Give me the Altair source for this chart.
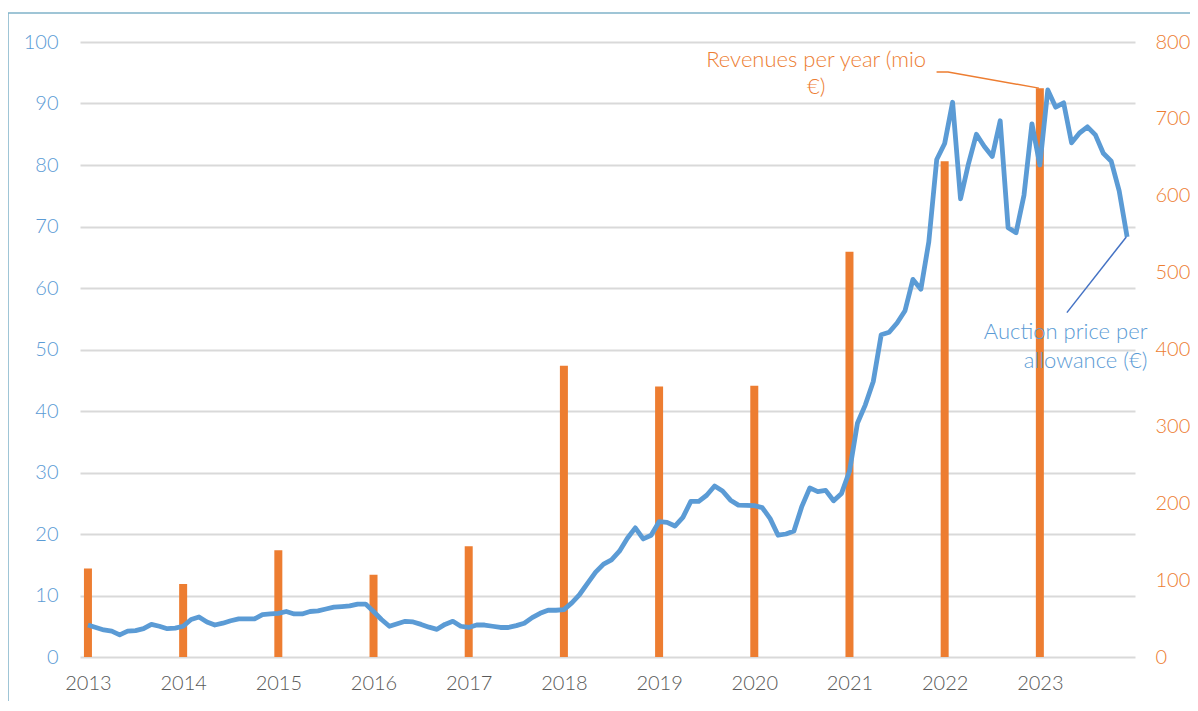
import altair as alt
import pandas as pd

# Monthly auction price per allowance (EUR), Jan 2013 .. Dec 2023
price = [
    5.2, 4.8, 4.4, 4.2, 3.6, 4.2, 4.3, 4.6, 5.3, 5.0, 4.6, 4.7,        # 2013
    5.0, 6.1, 6.5, 5.7, 5.2, 5.5, 5.9, 6.2, 6.2, 6.2, 6.9, 7.0,        # 2014
    7.1, 7.4, 7.0, 7.0, 7.4, 7.5, 7.8, 8.1, 8.2, 8.3, 8.6, 8.6,        # 2015
    7.4, 6.1, 5.0, 5.4, 5.8, 5.7, 5.3, 4.85, 4.5, 5.3, 5.8, 5.0,       # 2016
    4.8, 5.2, 5.2, 5.0, 4.8, 4.8, 5.1, 5.5, 6.4, 7.1, 7.6, 7.6,        # 2017
    7.7, 8.8, 10.2, 12.0, 13.8, 15.1, 15.8, 17.2, 19.3, 21.0, 19.2, 19.8,  # 2018
    22.0, 21.9, 21.3, 22.7, 25.3, 25.3, 26.3, 27.8, 27.0, 25.5, 24.7, 24.65,  # 2019
    24.6, 24.3, 22.5, 19.8, 20.0, 20.5, 24.5, 27.5, 26.9, 27.1, 25.4, 26.6,  # 2020
    30.2, 38.0, 41.0, 44.8, 52.4, 52.8, 54.3, 56.3, 61.4, 59.8, 67.5, 80.9,  # 2021
    83.5, 90.2, 74.5, 80.2, 85.0, 83.0, 81.4, 87.2, 69.8, 69.0, 75.1, 86.7,  # 2022
    80.0, 92.2, 89.4, 90.1, 83.6, 85.2, 86.2, 84.9, 81.9, 80.6, 75.8, 68.3,  # 2023
]

# Yearly auction revenues (mio EUR)
years = [2013, 2014, 2015, 2016, 2017, 2018, 2019, 2020, 2021, 2022, 2023]
revenues = [115, 95, 139, 107, 144, 379, 352, 353, 527, 645, 740]

year_ticks = years
left_ticks = list(range(0, 101, 10))
right_ticks = list(range(0, 801, 100))

rev_label = ["Revenues per year (mio", "€)"]
rev_label_x = [2020.65, 2020.65]
rev_label_y = [777, 741]
rev_leader_x = [2021.915, 2022.035, 2022.99]
rev_leader_y = [761, 761, 740]

price_label = ["Auction price per", "allowance (€)"]
price_label_x = [2024.13, 2024.13]
price_label_y = [52.8, 48.1]
price_leader_x = [2023.284, 2023.908]
price_leader_y = [56.0, 68.3]

BLUE = "#5B9BD5"
ORANGE = "#ED7D31"
GRAY = "#595959"
FONT = "Lato"

price_df = pd.DataFrame({"t": [2013 + i / 12 for i in range(len(price))], "price": price})
rev_df = pd.DataFrame({"year": years, "rev": revenues})

xscale = alt.Scale(domain=[2012.969, 2023.947], nice=False, zero=False)
xaxis = alt.Axis(values=year_ticks, format="d", grid=False, domain=False, ticks=False,
                 labelFontSize=20, labelColor=GRAY, labelFont=FONT, labelFontWeight=300,
                 labelPadding=16, title=None)

left_scale = alt.Scale(domain=[0, 100], nice=False)
right_scale = alt.Scale(domain=[0, 800], nice=False)

right_axis = alt.Axis(orient="right", values=right_ticks, grid=False,
                      domain=False, ticks=False, labelFontSize=20, labelColor=ORANGE,
                      labelFont=FONT, labelFontWeight=300, labelPadding=20, title=None)
left_axis = alt.Axis(orient="left", values=left_ticks, grid=True,
                     gridColor="#D9D9D9", gridWidth=2, domain=False, ticks=False,
                     labelFontSize=20, labelColor=BLUE, labelFont=FONT,
                     labelFontWeight=300, labelPadding=22, title=None)

bars = alt.Chart(rev_df).mark_bar(color=ORANGE, size=8).encode(
    x=alt.X("year:Q", scale=xscale, axis=xaxis),
    y=alt.Y("rev:Q", scale=right_scale, axis=right_axis),
)

rev_text = alt.Chart(pd.DataFrame({"x": rev_label_x, "y": rev_label_y, "txt": rev_label})).mark_text(
    font=FONT, fontSize=22, fontWeight=300, color=ORANGE, align="center", baseline="middle"
).encode(
    x=alt.X("x:Q", scale=xscale, axis=xaxis),
    y=alt.Y("y:Q", scale=right_scale, axis=right_axis),
    text="txt:N",
)

rev_leader = alt.Chart(pd.DataFrame({"x": rev_leader_x, "y": rev_leader_y, "o": [0, 1, 2]})).mark_line(
    color=ORANGE, strokeWidth=1.5
).encode(
    x=alt.X("x:Q", scale=xscale, axis=xaxis),
    y=alt.Y("y:Q", scale=right_scale, axis=right_axis),
    order="o:O",
)

right_layer = alt.layer(bars, rev_text, rev_leader)

line = alt.Chart(price_df).mark_line(color=BLUE, strokeWidth=4.8, strokeJoin="round").encode(
    x=alt.X("t:Q", scale=xscale, axis=xaxis),
    y=alt.Y("price:Q", scale=left_scale, axis=left_axis),
)

price_text = alt.Chart(pd.DataFrame({"x": price_label_x, "y": price_label_y, "txt": price_label})).mark_text(
    font=FONT, fontSize=22, fontWeight=300, color=BLUE, align="right", baseline="middle"
).encode(
    x=alt.X("x:Q", scale=xscale, axis=xaxis),
    y=alt.Y("y:Q", scale=left_scale, axis=left_axis),
    text="txt:N",
)

price_leader = alt.Chart(pd.DataFrame({"x": price_leader_x, "y": price_leader_y})).mark_line(
    color="#4472C4", strokeWidth=1.5
).encode(
    x=alt.X("x:Q", scale=xscale, axis=xaxis),
    y=alt.Y("y:Q", scale=left_scale, axis=left_axis),
)

left_layer = alt.layer(line, price_text, price_leader)

frame = alt.Chart(pd.DataFrame({"a": [0]})).mark_rule(color="#7FB2C9", strokeWidth=1.5).encode(
    x=alt.value(-72), y=alt.value(-29), y2=alt.value(700),
)
frame_top = alt.Chart(pd.DataFrame({"a": [0]})).mark_rule(color="#7FB2C9", strokeWidth=1.5).encode(
    x=alt.value(-72), x2=alt.value(1130), y=alt.value(-29),
)

chart = alt.layer(right_layer, left_layer, frame, frame_top).resolve_scale(
    y="independent"
).properties(
    width=1055, height=615,
    background="white",
    autosize=alt.AutoSizeParams(type="none"),
    padding={"left": 72, "top": 34, "right": 55, "bottom": 44},
).configure_view(stroke=None)

chart.save("out.html", embed_options={"renderer": "svg", "actions": False})
